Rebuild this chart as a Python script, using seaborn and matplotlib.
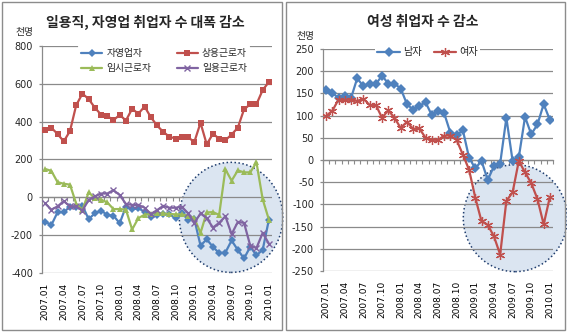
import numpy as np
import pandas as pd
import matplotlib
matplotlib.use("Agg")
import matplotlib.pyplot as plt
import seaborn as sns
from matplotlib.patches import Ellipse, Rectangle

# ---------------- data ----------------
months = [f"{y}.{m:02d}" for y in (2007, 2008, 2009) for m in range(1, 13)] + ["2010.01"]
tick_idx = list(range(0, len(months), 3))
tick_labels = [months[i] for i in tick_idx]

# left panel (천명)
self_employed = [-128, -147, -79, -79, -49, -49, -44, -115, -85, -70, -93, -97, -137, -49, -63, -58,
                 -76, -102, -93, -90, -90, -111, -81, -120, -115, -255, -222, -262, -295, -292, -228,
                 -278, -323, -262, -306, -278, -118]
regular = [355, 368, 335, 296, 350, 487, 548, 520, 474, 437, 430, 408, 436, 406, 468, 442, 480, 424,
           380, 346, 320, 311, 319, 318, 292, 394, 280, 336, 310, 302, 332, 368, 465, 492, 492, 567, 610]
temporary = [150, 140, 80, 72, 67, -33, -67, 26, -4, -12, -27, -62, -62, -65, -170, -110, -92, -87,
             -83, -85, -88, -90, -90, -97, -110, -188, -80, -78, -93, 148, 88, 142, 132, 132, 185, -10,
             -118]
daily = [-32, -65, -48, -20, -48, -48, -70, -14, 5, 20, 20, 38, 12, -35, -40, -40, -55, -88, -68, -45,
         -55, -55, -50, -85, -135, -85, -110, -160, -135, -100, -195, -130, -135, -255, -268, -188, -245]
left_names = ["자영업자", "상용근로자", "임시근로자", "일용근로자"]

# right panel (천명)
male = [158, 152, 139, 145, 139, 184, 166, 171, 171, 190, 172, 172, 161, 126, 113, 122, 130, 101, 111,
        105, 61, 56, 67, 5, -19, -2, -45, -14, -8, 95, -2, 6, 97, 58, 80, 126, 90]
female = [99, 111, 136, 135, 136, 133, 138, 124, 124, 95, 112, 95, 72, 86, 70, 71, 50, 46, 45, 55, 55,
          45, 12, -22, -85, -138, -146, -172, -213, -92, -73, -2, -28, -52, -88, -145, -83]
right_names = ["남자", "여자"]

left_title = "일용직, 자영업 취업자 수 대폭 감소"
right_title = "여성 취업자 수 감소"
unit = "천명"

# ---------------- style ----------------
sns.set_theme(style="white")
plt.rcParams["font.family"] = ["Noto Sans CJK KR", "DejaVu Sans"]
plt.rcParams["axes.unicode_minus"] = False

BLUE, RED, GREEN, PURPLE = "#4F81BD", "#C0504D", "#9BBB59", "#8064A2"
GRID = "#8a8a8a"

W, H = 567, 335
fig = plt.figure(figsize=(W / 100, H / 100), dpi=100)
fig.patch.set_facecolor("white")


def fx(px):
    return px / W


def fy(py):
    return 1 - py / H


axL = fig.add_axes([fx(42), fy(273), fx(272) - fx(42), fy(46) - fy(273)])
axR = fig.add_axes([fx(323), fy(271), fx(553) - fx(323), fy(49) - fy(271)])

x = np.arange(len(months))


def style_axes(ax, ylim, ystep):
    ax.set_xlim(-0.5, len(months) - 0.5)
    ax.set_ylim(*ylim)
    ax.set_yticks(np.arange(ylim[0], ylim[1] + 1, ystep))
    ax.set_axisbelow("line")
    ax.yaxis.grid(True, color=GRID, linewidth=0.9)
    ax.xaxis.grid(False)
    for s in ["top", "right", "bottom"]:
        ax.spines[s].set_visible(False)
    ax.spines["left"].set_color(GRID)
    ax.spines["left"].set_linewidth(0.9)
    ax.set_xticks(tick_idx)
    ax.set_xticklabels(tick_labels, rotation=90, fontsize=6.5, family="DejaVu Sans")
    ax.tick_params(axis="x", length=0, pad=7, colors="black")
    ax.tick_params(axis="y", length=2.5, width=0.9, color=GRID, labelsize=7, pad=4, left=True)
    for lab in ax.get_yticklabels():
        lab.set_family("DejaVu Sans")
    ax.set_xlabel("")
    ax.set_ylabel("")
    # category axis line at zero with tick marks between categories
    zf = (0 - ylim[0]) / (ylim[1] - ylim[0])
    sec = ax.secondary_xaxis(zf)
    sec.set_alignment("bottom")
    sec.set_xticks(np.arange(-0.5, len(months), 1.0))
    sec.tick_params(axis="x", direction="out", length=3, width=0.8, color=GRID,
                    labelbottom=False, labeltop=False)
    sec.spines["bottom"].set_color(GRID)
    sec.spines["bottom"].set_linewidth(0.9)


# ---------------- left panel ----------------
series_left = [
    (self_employed, BLUE, "D", 3.8, 0.0),
    (regular, RED, "s", 3.8, 0.0),
    (temporary, GREEN, "^", 4.5, 0.0),
    (daily, PURPLE, "x", 4.5, 1.0),
]
for (vals, col, mk, ms, mew), name in zip(series_left, left_names):
    sns.lineplot(x=x, y=vals, ax=axL, color=col, marker=mk, markersize=ms, markeredgewidth=mew,
                 markeredgecolor=col, linewidth=1.6, label=name, estimator=None, zorder=3)
style_axes(axL, (-400, 800), 200)
hL, lL = axL.get_legend_handles_labels()
order = [0, 2, 1, 3]
legL = axL.legend([hL[i] for i in order], [lL[i] for i in order], ncol=2, loc="center",
                  bbox_to_anchor=(0.53, 0.935), fontsize=7, frameon=True,
                  facecolor="white", edgecolor="none", framealpha=1, handlelength=2.2,
                  handletextpad=0.4, columnspacing=2.6, borderpad=0.35, labelspacing=0.55)
legL.set_zorder(5)
axL.add_patch(Ellipse((0.822, 0.245), 0.45, 0.485, transform=axL.transAxes, facecolor="#dbe5f1",
                      edgecolor="#1f3d6e", linestyle=(0, (1, 1.6)), linewidth=1.1, zorder=1,
                      clip_on=False))

# ---------------- right panel ----------------
sns.lineplot(x=x, y=male, ax=axR, color=BLUE, marker="D", markersize=4.6, markeredgewidth=0,
             linewidth=1.6, label=right_names[0], estimator=None, zorder=3)
sns.lineplot(x=x, y=female, ax=axR, color=RED, marker=(6, 2, 0), markersize=6.5,
             markeredgewidth=0.9, markeredgecolor=RED, linewidth=1.6, label=right_names[1],
             estimator=None, zorder=3)
style_axes(axR, (-250, 250), 50)
legR = axR.legend(ncol=2, loc="center", bbox_to_anchor=(0.455, 0.985), fontsize=7.3, frameon=True,
                  facecolor="white", edgecolor="none", framealpha=1, handlelength=2.2,
                  handletextpad=0.3, columnspacing=1.2, borderpad=0.25)
legR.set_zorder(5)
axR.add_patch(Ellipse((0.836, 0.238), 0.452, 0.482, transform=axR.transAxes, facecolor="#dbe5f1",
                      edgecolor="#1f3d6e", linestyle=(0, (1, 1.6)), linewidth=1.1, zorder=1,
                      clip_on=False))

# ---------------- titles, units, frames ----------------
fig.text(fx(145), fy(22), left_title, ha="center", va="center", fontsize=10, fontweight="bold")
fig.text(fx(423), fy(22), right_title, ha="center", va="center", fontsize=10, fontweight="bold")
fig.text(fx(24), fy(32), unit, ha="center", va="center", fontsize=7)
fig.text(fx(305), fy(36), unit, ha="center", va="center", fontsize=7)

for (x0, x1) in [(2, 282), (286, 565)]:
    fig.add_artist(Rectangle((fx(x0), fy(330)), fx(x1) - fx(x0), fy(2) - fy(330),
                             transform=fig.transFigure, fill=False, edgecolor="#8c8c8c",
                             linewidth=1.0))

fig.savefig("out.png", dpi=100)
